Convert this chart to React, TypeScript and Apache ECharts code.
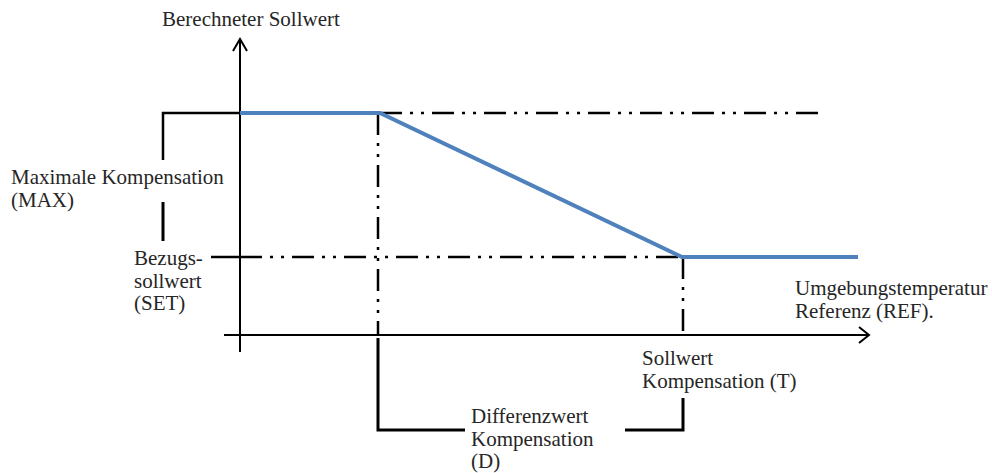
import React, { useEffect, useRef } from "react";
import * as echarts from "echarts";

// Diagram coordinates (schematic units, y grows downward)
const yAxisPts = [[240, 352], [240, 40]];
const yArrowPts = [[233, 51], [240, 39], [247, 51]];
const xAxisPts = [[224, 335], [868, 335]];
const xArrowPts = [[859, 327], [869, 335], [859, 343]];
const maxBracketTop = [[163, 160], [163, 113], [240, 113]];
const maxBracketLow = [[163, 202], [163, 241]];
const setTick = [[211, 257], [240, 257]];
const upperRef = [[380, 113], [826, 113]];
const lowerRef = [[240, 257], [858, 257]];
const dDrop = [[378, 113], [378, 335]];
const tDrop = [[683, 257], [683, 335]];
const dBracketLeft = [[378, 338], [378, 430], [465, 430]];
const dBracketRight = [[625, 430], [683, 430], [683, 398]];
const compensationCurve = [[240, 113], [380, 113], [682, 257], [858, 257]];

const labelTexts = [
  { lines: ["Berechneter Sollwert"], x: 162, y: 19 },
  { lines: ["Maximale Kompensation", "(MAX)"], x: 11, y: 177 },
  { lines: ["Bezugs-", "sollwert", "(SET)"], x: 134, y: 258 },
  { lines: ["Umgebungstemperatur", "Referenz (REF)."], x: 795, y: 288 },
  { lines: ["Sollwert", "Kompensation (T)"], x: 642, y: 358 },
  { lines: ["Differenzwert", "Kompensation", "(D)"], x: 471, y: 416 },
];

const LINE_H = 22.5;
const DASH_DOT_DOT = [22, 8, 3, 8, 3, 8];

function seg(data: number[][], color: string, width: number, type: any = "solid", z = 2) {
  return {
    type: "line",
    data,
    showSymbol: false,
    symbol: "none",
    silent: true,
    z,
    lineStyle: { color, width, type, cap: "butt", join: "miter" },
  };
}

export default function App() {
  const ref = useRef<HTMLDivElement>(null);
  useEffect(() => {
    document.body.style.margin = "0";
    const chart = echarts.init(ref.current!, null, { renderer: "svg" });
    const texts: any[] = [];
    labelTexts.forEach((t) => {
      t.lines.forEach((ln, i) => {
        texts.push({
          type: "text",
          x: t.x,
          y: t.y + i * LINE_H,
          silent: true,
          style: {
            text: ln,
            fill: "#262626",
            fontFamily: "Liberation Serif, Times New Roman, serif",
            fontSize: 21,
            verticalAlign: "middle",
            align: "left",
          },
        });
      });
    });
    chart.setOption({
      animation: false,
      backgroundColor: "#fff",
      grid: { left: 0, right: 0, top: 0, bottom: 0, containLabel: false },
      xAxis: { type: "value", min: 0, max: 992, show: false },
      yAxis: { type: "value", min: 0, max: 473, inverse: true, show: false },
      series: [
        seg(upperRef, "#000", 2.5, DASH_DOT_DOT),
        seg(lowerRef, "#000", 2.5, DASH_DOT_DOT),
        seg(dDrop, "#000", 2.5, DASH_DOT_DOT),
        seg(tDrop, "#000", 2.5, DASH_DOT_DOT),
        seg(yAxisPts, "#000", 2),
        seg(yArrowPts, "#000", 2),
        seg(xAxisPts, "#000", 2),
        seg(xArrowPts, "#000", 2),
        seg(maxBracketTop, "#000", 2.5),
        seg(maxBracketLow, "#000", 3),
        seg(setTick, "#000", 2.5),
        seg(dBracketLeft, "#000", 3),
        seg(dBracketRight, "#000", 3),
        seg(compensationCurve, "#4F81BD", 4, "solid", 5),
      ],
      graphic: texts,
    });
    return () => chart.dispose();
  }, []);
  return (
    <div
      ref={ref}
      style={{ position: "absolute", left: 0, top: 0, width: 992, height: 473 }}
    />
  );
}
